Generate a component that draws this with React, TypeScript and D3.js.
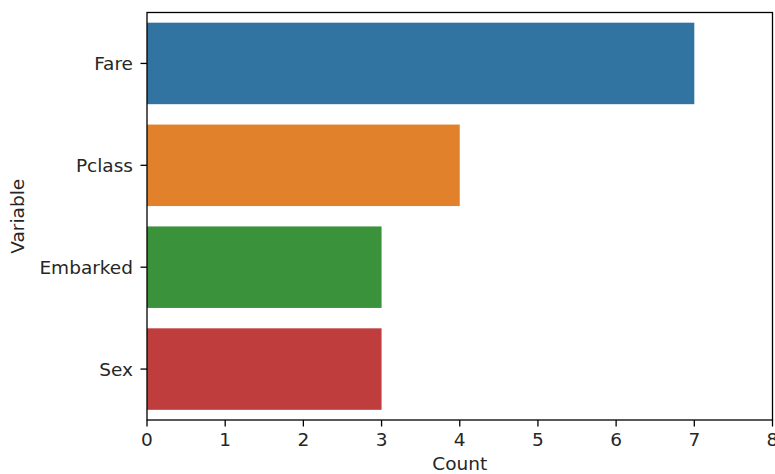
import * as d3 from "d3"

const categories = ["Fare", "Pclass", "Embarked", "Sex"]
const counts = [7, 4, 3, 3]
const colors = ["#3274a1", "#e1812c", "#3a923a", "#c03d3e"]
const xTicks = [0, 1, 2, 3, 4, 5, 6, 7, 8]

const W = 775
const H = 474
const margin = { top: 12.5, right: 2.5, bottom: 54, left: 147 }
const font = "DejaVu Sans, sans-serif"
const fs = 18.5
const tickLen = 6.5

export default function App() {
  const x = d3.scaleLinear().domain([0, 8]).range([margin.left, W - margin.right])
  const y = d3
    .scaleBand()
    .domain(categories)
    .range([margin.top, H - margin.bottom])
    .paddingInner(0.2)
    .paddingOuter(0.1)
  const bottom = H - margin.bottom

  return (
    <svg
      width={W}
      height={H}
      style={{ position: "absolute", left: 0, top: 0, background: "#fff" }}
      fontFamily={font}
    >
      {categories.map((c, i) => (
        <rect
          key={c}
          x={x(0)}
          y={y(c)!}
          width={x(counts[i]) - x(0)}
          height={y.bandwidth()}
          fill={colors[i]}
        />
      ))}
      <rect
        x={margin.left}
        y={margin.top}
        width={W - margin.right - margin.left}
        height={bottom - margin.top}
        fill="none"
        stroke="#000"
        strokeWidth={1.3}
      />
      {xTicks.map((t) => (
        <g key={t}>
          <line x1={x(t)} x2={x(t)} y1={bottom} y2={bottom + tickLen} stroke="#000" strokeWidth={1.3} />
          <text x={x(t)} y={446} textAnchor="middle" fontSize={fs} fill="#262626">
            {t}
          </text>
        </g>
      ))}
      {categories.map((c) => {
        const cy = y(c)! + y.bandwidth() / 2
        return (
          <g key={c}>
            <line x1={margin.left - tickLen} x2={margin.left} y1={cy} y2={cy} stroke="#000" strokeWidth={1.3} />
            <text
              x={margin.left - 14}
              y={cy}
              textAnchor="end"
              dominantBaseline="central"
              fontSize={fs}
              fill="#262626"
            >
              {c}
            </text>
          </g>
        )
      })}
      <text x={(margin.left + W - margin.right) / 2} y={470} textAnchor="middle" fontSize={fs} fill="#262626">
        Count
      </text>
      <text
        transform={`translate(24,${(margin.top + bottom) / 2}) rotate(-90)`}
        textAnchor="middle"
        fontSize={fs}
        fill="#262626"
      >
        Variable
      </text>
    </svg>
  )
}
